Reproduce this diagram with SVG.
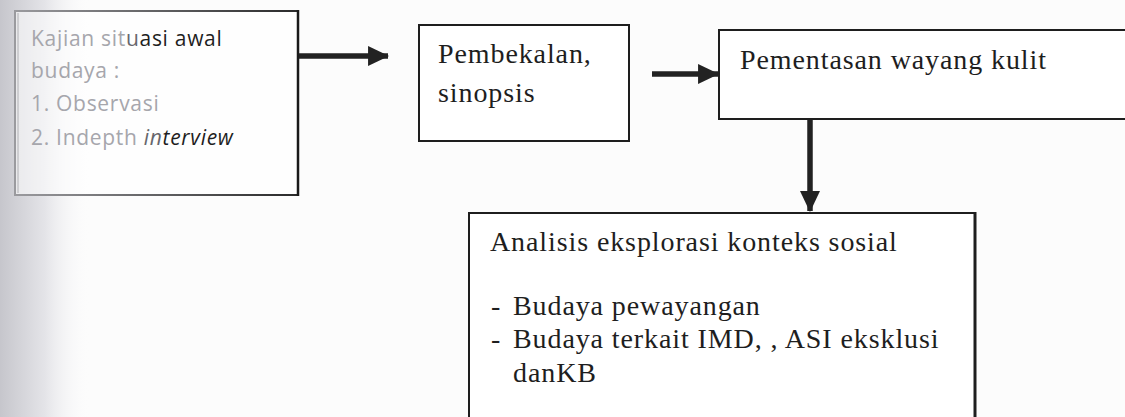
<svg xmlns="http://www.w3.org/2000/svg" width="1125" height="417" viewBox="0 0 1125 417">
  <defs>
    <linearGradient id="leftShade" x1="0" y1="0" x2="1" y2="0">
      <stop offset="0" stop-color="#c6c6cc"/>
      <stop offset="0.5" stop-color="#e4e4e8"/>
      <stop offset="1" stop-color="#fcfcfc" stop-opacity="0"/>
    </linearGradient>
    <linearGradient id="leftBorder" gradientUnits="userSpaceOnUse" x1="15" y1="0" x2="298" y2="0">
      <stop offset="0" stop-color="#9a9a9e"/>
      <stop offset="1" stop-color="#2a2a2a"/>
    </linearGradient>
    <marker id="arrow" viewBox="0 0 10 10" refX="9.5" refY="5" markerUnits="userSpaceOnUse" markerWidth="21" markerHeight="20" orient="auto" preserveAspectRatio="none">
      <path d="M0,0 L10,5 L0,10 Z" fill="#222"/>
    </marker>
  </defs>
  <style>
    .serif { font-family: "Liberation Serif", "Times New Roman", serif; font-size: 28px; fill: #1e1e1e; letter-spacing: 0.9px; }
    .sans { font-family: "Open Sans", "Liberation Sans", sans-serif; font-size: 21px; letter-spacing: 0.7px; fill: #a6a6ac; }
    .mid { fill: #66666c; }
    .dark { fill: #1e1e1e; }
    .box { fill: #ffffff; stroke: #1e1e1e; stroke-width: 2; }
    .conn { stroke: #222; stroke-width: 5.5; fill: none; }
  </style>
  <rect x="0" y="0" width="1125" height="417" fill="#fcfcfc"/>
  <rect x="0" y="0" width="90" height="417" fill="url(#leftShade)"/>

  <g id="node-kajian">
    <rect x="15" y="11" width="283" height="184" fill="#ffffff" fill-opacity="0.55" stroke="url(#leftBorder)" stroke-width="2"/>
    <line x1="18" y1="13" x2="18" y2="193" stroke="#b0b0b4" stroke-width="1"/>
    <line x1="298" y1="10" x2="298" y2="196" stroke="#1a1a1a" stroke-width="2.5"/>
    <text class="sans">
      <tspan x="31" y="46">Kajian sit<tspan class="mid">u</tspan><tspan class="dark">asi awal</tspan></tspan>
      <tspan x="31" y="78">budaya :</tspan>
      <tspan x="31" y="111">1. Observasi</tspan>
      <tspan x="31" y="145">2. Indepth <tspan font-style="italic"><tspan class="mid">in</tspan><tspan class="dark">terview</tspan></tspan></tspan>
    </text>
  </g>

  <g id="node-pembekalan">
    <rect class="box" x="419" y="25" width="210" height="116"/>
    <text class="serif">
      <tspan x="438" y="63">Pembekalan,</tspan>
      <tspan x="438" y="102">sinopsis</tspan>
    </text>
  </g>

  <g id="node-pementasan">
    <rect class="box" x="719" y="30" width="430" height="89" stroke-width="2.5"/>
    <text class="serif" x="740" y="69">Pementasan wayang kulit</text>
  </g>

  <g id="node-analisis">
    <rect class="box" x="469" y="213" width="506" height="230"/>
    <line x1="975" y1="212" x2="975" y2="417" stroke="#1e1e1e" stroke-width="3"/>
    <text class="serif">
      <tspan x="490" y="251">Analisis eksplorasi konteks sosial</tspan>
      <tspan x="491" y="315">-</tspan>
      <tspan x="513" y="315">Budaya pewayangan</tspan>
      <tspan x="491" y="348">-</tspan>
      <tspan x="513" y="348">Budaya terkait IMD, , ASI eksklusi</tspan>
      <tspan x="513" y="382">danKB</tspan>
    </text>
  </g>

  <g id="connectors">
    <line class="conn" x1="299" y1="56" x2="388" y2="56" marker-end="url(#arrow)"/>
    <line class="conn" x1="652" y1="74" x2="718" y2="74" marker-end="url(#arrow)"/>
    <line class="conn" x1="810" y1="120" x2="810" y2="211" marker-end="url(#arrow)"/>
  </g>
</svg>
